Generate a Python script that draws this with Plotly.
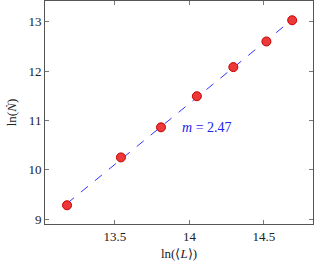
import numpy as np
import plotly.graph_objects as go

ln_L = [13.178, 13.54, 13.809, 14.05, 14.295, 14.517, 14.69]
ln_N = [9.28, 10.25, 10.86, 11.49, 12.08, 12.60, 13.03]
slope_label = "<i>m</i> = 2.47"
x_ticks = [13.5, 14, 14.5]
y_ticks = [9, 10, 11, 12, 13]

m, b = np.polyfit(ln_L, ln_N, 1)
fit_x = [min(ln_L), max(ln_L)]
fit_y = [m * v + b for v in fit_x]

font_fam = "Liberation Serif"
fig = go.Figure()
fig.add_trace(go.Scatter(x=fit_x, y=fit_y, mode="lines",
                         line=dict(color="#3333ff", width=1, dash="dash"),
                         showlegend=False))
fig.add_trace(go.Scatter(x=ln_L, y=ln_N, mode="markers",
                         marker=dict(size=9, color="#ec3838",
                                     line=dict(color="#c80000", width=1)),
                         showlegend=False))
fig.add_annotation(x=14.115, y=10.86, text=slope_label, showarrow=False,
                   font=dict(color="#2222ee", size=14, family=font_fam))

axis_common = dict(showgrid=False, zeroline=False, mirror="ticks", ticks="inside",
                   ticklen=4, tickcolor="#777777", showline=True,
                   linecolor="#555555", linewidth=1,
                   tickfont=dict(family=font_fam, size=13, color="#222222"))
fig.update_xaxes(range=[13.03, 14.83], tickvals=x_ticks, ticktext=[str(t) for t in x_ticks],
                 title=dict(text="ln(⟨<i>L</i>⟩)", standoff=6,
                            font=dict(family=font_fam, size=13, color="#222222")),
                 **axis_common)
fig.update_yaxes(range=[8.90, 13.42], tickvals=y_ticks, ticktext=[str(t) for t in y_ticks],
                 title=dict(text="ln(<i>Ṅ</i>)", standoff=8,
                            font=dict(family=font_fam, size=13, color="#222222")),
                 **axis_common)
fig.update_layout(width=315, height=263, margin=dict(l=45, r=2, t=1, b=39),
                  paper_bgcolor="white", plot_bgcolor="white")
fig.write_html("out.html", config={"displayModeBar": False},
               post_script="document.body.style.margin='0';document.body.style.overflow='hidden';")
